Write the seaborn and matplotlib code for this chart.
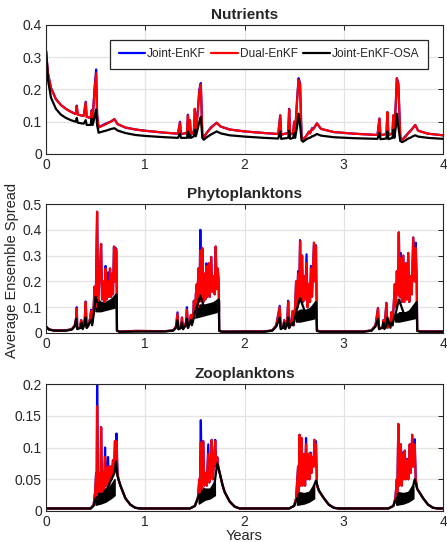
import numpy as np
import pandas as pd
import seaborn as sns
import matplotlib
matplotlib.use("Agg")
import matplotlib.pyplot as plt

# ---------------- Nutrients ----------------
nut_x = [0.00, 0.02, 0.05, 0.10, 0.15, 0.20, 0.25, 0.30, 0.31, 0.32, 0.38, 0.40, 0.41,
         0.45, 0.46, 0.47, 0.49, 0.505, 0.515, 0.53, 0.55, 0.60, 0.65, 0.69, 0.72, 0.80,
         0.90, 1.00, 1.10, 1.20,
         1.33, 1.35, 1.36, 1.42, 1.43, 1.44, 1.45, 1.46, 1.49, 1.50, 1.51, 1.53, 1.545,
         1.56, 1.575, 1.59, 1.62, 1.66, 1.72, 1.76, 1.85, 2.00, 2.20,
         2.34, 2.36, 2.37, 2.44, 2.45, 2.46, 2.49, 2.50, 2.51, 2.53, 2.545, 2.56, 2.575,
         2.59, 2.62, 2.65, 2.66, 2.68, 2.69, 2.73, 2.77, 2.90, 3.10,
         3.34, 3.36, 3.37, 3.43, 3.44, 3.45, 3.49, 3.50, 3.51, 3.525, 3.535, 3.55, 3.57,
         3.59, 3.62, 3.65, 3.67, 3.69, 3.72, 3.75, 3.85, 4.00]
nut_dual = [0.32, 0.25, 0.205, 0.17, 0.152, 0.14, 0.131, 0.124, 0.148, 0.122, 0.118, 0.16, 0.115,
            0.112, 0.133, 0.112, 0.20, 0.25, 0.12, 0.082, 0.085, 0.092, 0.10, 0.108, 0.093, 0.082,
            0.076, 0.072, 0.069, 0.066,
            0.063, 0.098, 0.062, 0.065, 0.12, 0.060, 0.105, 0.060, 0.070, 0.14, 0.070, 0.13, 0.195,
            0.215, 0.060, 0.052, 0.066, 0.080, 0.097, 0.085, 0.076, 0.070, 0.065,
            0.062, 0.12, 0.060, 0.065, 0.138, 0.060, 0.065, 0.10, 0.065, 0.165, 0.23, 0.215, 0.050,
            0.045, 0.055, 0.068, 0.064, 0.078, 0.076, 0.095, 0.078, 0.068, 0.063,
            0.059, 0.11, 0.058, 0.062, 0.13, 0.058, 0.065, 0.12, 0.070, 0.16, 0.235, 0.215, 0.050,
            0.045, 0.052, 0.065, 0.070, 0.078, 0.090, 0.072, 0.063, 0.058]
nut_joint = [0.32, 0.25, 0.205, 0.17, 0.152, 0.14, 0.131, 0.124, 0.150, 0.122, 0.118, 0.162, 0.115,
             0.112, 0.136, 0.112, 0.205, 0.262, 0.12, 0.082, 0.086, 0.094, 0.10, 0.108, 0.093, 0.082,
             0.076, 0.072, 0.069, 0.066,
             0.063, 0.100, 0.062, 0.065, 0.122, 0.060, 0.105, 0.060, 0.070, 0.14, 0.070, 0.135, 0.20,
             0.220, 0.060, 0.052, 0.066, 0.082, 0.097, 0.085, 0.076, 0.070, 0.065,
             0.062, 0.12, 0.060, 0.065, 0.140, 0.060, 0.065, 0.10, 0.065, 0.170, 0.235, 0.220, 0.050,
             0.045, 0.055, 0.070, 0.064, 0.080, 0.076, 0.095, 0.078, 0.068, 0.063,
             0.059, 0.11, 0.058, 0.062, 0.13, 0.058, 0.065, 0.12, 0.070, 0.16, 0.235, 0.220, 0.050,
             0.045, 0.055, 0.065, 0.072, 0.078, 0.090, 0.072, 0.063, 0.058]
nut_osa = [0.32, 0.23, 0.175, 0.14, 0.122, 0.112, 0.105, 0.100, 0.112, 0.097, 0.094, 0.105, 0.090,
           0.090, 0.110, 0.090, 0.115, 0.138, 0.09, 0.066, 0.068, 0.072, 0.077, 0.080, 0.073, 0.065,
           0.059, 0.056, 0.054, 0.052,
           0.050, 0.064, 0.050, 0.050, 0.070, 0.050, 0.060, 0.050, 0.055, 0.075, 0.055, 0.080, 0.100,
           0.115, 0.050, 0.044, 0.052, 0.060, 0.070, 0.064, 0.058, 0.054, 0.050,
           0.048, 0.070, 0.047, 0.050, 0.072, 0.047, 0.050, 0.065, 0.050, 0.085, 0.125, 0.090, 0.042,
           0.038, 0.045, 0.050, 0.050, 0.055, 0.055, 0.062, 0.057, 0.052, 0.049,
           0.047, 0.065, 0.046, 0.048, 0.070, 0.046, 0.050, 0.075, 0.050, 0.085, 0.125, 0.085, 0.040,
           0.037, 0.042, 0.048, 0.050, 0.054, 0.058, 0.054, 0.050, 0.047]

# ---------------- Phytoplanktons ----------------
phy_x = [0.00, 0.03, 0.08, 0.20, 0.26, 0.29, 0.305, 0.31, 0.315, 0.34, 0.355, 0.36, 0.39, 0.40,
         0.41, 0.43, 0.445, 0.455, 0.465, 0.48, 0.49, 0.50, 0.505, 0.515, 0.525, 0.545, 0.555,
         0.565, 0.58, 0.59, 0.60, 0.61, 0.625, 0.635, 0.645, 0.655, 0.665, 0.675, 0.685, 0.695,
         0.70, 0.71, 0.715, 0.74, 0.90, 1.20,
         1.28, 1.31, 1.325, 1.335, 1.36, 1.37, 1.38, 1.41, 1.42, 1.43, 1.45, 1.46, 1.47, 1.485,
         1.49, 1.50, 1.51, 1.52, 1.525, 1.535, 1.545, 1.555, 1.565, 1.575, 1.585, 1.595, 1.605,
         1.615, 1.625, 1.64, 1.65, 1.665, 1.675, 1.69, 1.70, 1.71, 1.72, 1.73, 1.74, 1.745,
         1.77, 2.00, 2.20,
         2.28, 2.32, 2.355, 2.365, 2.39, 2.40, 2.41, 2.43, 2.44, 2.45, 2.47, 2.485, 2.495, 2.51,
         2.52, 2.53, 2.54, 2.55, 2.56, 2.57, 2.58, 2.59, 2.60, 2.61, 2.625, 2.635, 2.65, 2.66,
         2.67, 2.68, 2.70, 2.71, 2.72, 2.73, 2.76, 3.20,
         3.28, 3.32, 3.345, 3.355, 3.39, 3.40, 3.41, 3.43, 3.44, 3.47, 3.48, 3.49, 3.505, 3.515,
         3.525, 3.535, 3.545, 3.555, 3.565, 3.575, 3.585, 3.60, 3.61, 3.625, 3.635, 3.65, 3.66,
         3.675, 3.685, 3.70, 3.715, 3.725, 3.735, 3.74, 3.77, 4.00]
phy_dual = [0.025, 0.014, 0.010, 0.010, 0.015, 0.030, 0.060, 0.095, 0.020, 0.020, 0.050, 0.020, 0.050, 0.120,
            0.020, 0.030, 0.060, 0.085, 0.040, 0.100, 0.180, 0.100, 0.200, 0.470, 0.120, 0.250, 0.345,
            0.130, 0.200, 0.120, 0.250, 0.130, 0.200, 0.140, 0.250, 0.140, 0.230, 0.150, 0.335, 0.200,
            0.325, 0.310, 0.010, 0.005, 0.008, 0.007,
            0.010, 0.025, 0.075, 0.015, 0.020, 0.060, 0.015, 0.040, 0.090, 0.020, 0.040, 0.070, 0.035, 0.080,
            0.125, 0.060, 0.150, 0.190, 0.100, 0.250, 0.120, 0.320, 0.140, 0.330, 0.120, 0.230, 0.130,
            0.260, 0.140, 0.270, 0.140, 0.295, 0.160, 0.220, 0.150, 0.335, 0.170, 0.250, 0.200, 0.010,
            0.005, 0.006, 0.006,
            0.010, 0.030, 0.100, 0.020, 0.020, 0.050, 0.020, 0.040, 0.120, 0.020, 0.040, 0.085, 0.030, 0.100,
            0.200, 0.100, 0.230, 0.130, 0.355, 0.130, 0.300, 0.120, 0.220, 0.130, 0.270, 0.100, 0.190, 0.120,
            0.250, 0.140, 0.350, 0.200, 0.335, 0.010, 0.006, 0.006,
            0.010, 0.030, 0.095, 0.020, 0.020, 0.050, 0.020, 0.115, 0.020, 0.040, 0.080, 0.030, 0.120, 0.190,
            0.100, 0.240, 0.150, 0.390, 0.140, 0.290, 0.120, 0.300, 0.120, 0.270, 0.130, 0.310, 0.120,
            0.220, 0.150, 0.370, 0.200, 0.330, 0.200, 0.010, 0.006, 0.006]
phy_joint = [0.025, 0.014, 0.010, 0.010, 0.015, 0.030, 0.060, 0.100, 0.020, 0.020, 0.050, 0.020, 0.050, 0.122,
             0.020, 0.030, 0.060, 0.090, 0.040, 0.100, 0.180, 0.100, 0.220, 0.470, 0.120, 0.250, 0.345,
             0.130, 0.200, 0.120, 0.260, 0.130, 0.235, 0.140, 0.250, 0.140, 0.230, 0.150, 0.335, 0.200,
             0.330, 0.325, 0.010, 0.005, 0.008, 0.007,
             0.010, 0.025, 0.080, 0.015, 0.020, 0.060, 0.015, 0.040, 0.100, 0.020, 0.040, 0.070, 0.035, 0.085,
             0.125, 0.060, 0.150, 0.190, 0.100, 0.250, 0.120, 0.400, 0.140, 0.325, 0.120, 0.230, 0.130,
             0.270, 0.140, 0.270, 0.140, 0.295, 0.160, 0.220, 0.150, 0.335, 0.170, 0.250, 0.200, 0.010,
             0.005, 0.006, 0.006,
             0.010, 0.030, 0.105, 0.020, 0.020, 0.050, 0.020, 0.040, 0.125, 0.020, 0.040, 0.085, 0.030, 0.100,
             0.200, 0.100, 0.240, 0.130, 0.360, 0.130, 0.300, 0.120, 0.220, 0.130, 0.305, 0.100, 0.190, 0.120,
             0.260, 0.140, 0.350, 0.200, 0.340, 0.010, 0.006, 0.006,
             0.010, 0.030, 0.097, 0.020, 0.020, 0.050, 0.020, 0.117, 0.020, 0.040, 0.080, 0.030, 0.120, 0.190,
             0.100, 0.240, 0.150, 0.390, 0.140, 0.310, 0.120, 0.300, 0.120, 0.270, 0.130, 0.310, 0.120,
             0.220, 0.150, 0.370, 0.200, 0.350, 0.200, 0.010, 0.006, 0.006]
phy_osa_x = [0.00, 0.03, 0.08, 0.20, 0.26, 0.29, 0.305, 0.315, 0.35, 0.36, 0.37, 0.39, 0.40, 0.41,
             0.44, 0.455, 0.465, 0.48, 0.49, 0.50, 0.515, 0.60, 0.712, 0.715, 0.74, 1.20,
             1.28, 1.31, 1.325, 1.335, 1.36, 1.37, 1.38, 1.41, 1.42, 1.43, 1.46, 1.47, 1.49, 1.50,
             1.555, 1.60, 1.742, 1.745, 1.77, 2.20,
             2.28, 2.32, 2.355, 2.365, 2.39, 2.40, 2.41, 2.43, 2.44, 2.45, 2.48, 2.49, 2.51, 2.52,
             2.56, 2.62, 2.72, 2.73, 2.76, 3.20,
             3.28, 3.32, 3.345, 3.355, 3.39, 3.40, 3.41, 3.43, 3.44, 3.47, 3.48, 3.49, 3.51, 3.52,
             3.555, 3.62, 3.735, 3.74, 3.77, 4.00]
phy_osa = [0.025, 0.013, 0.009, 0.009, 0.013, 0.025, 0.055, 0.015, 0.020, 0.040, 0.015, 0.035, 0.060, 0.020,
           0.040, 0.050, 0.030, 0.070, 0.100, 0.140, 0.120, 0.100, 0.150, 0.009, 0.005, 0.006,
           0.009, 0.020, 0.050, 0.015, 0.020, 0.040, 0.015, 0.030, 0.055, 0.020, 0.050, 0.030, 0.060, 0.080,
           0.145, 0.090, 0.130, 0.008, 0.005, 0.005,
           0.009, 0.025, 0.060, 0.015, 0.020, 0.040, 0.015, 0.030, 0.060, 0.020, 0.040, 0.030, 0.060, 0.080,
           0.135, 0.070, 0.120, 0.008, 0.005, 0.005,
           0.009, 0.025, 0.055, 0.015, 0.020, 0.040, 0.015, 0.030, 0.060, 0.020, 0.040, 0.030, 0.060, 0.070,
           0.130, 0.060, 0.120, 0.008, 0.005, 0.005]
# envelope of the fast black oscillations during blooms
phy_band_x = [[0.50, 0.55, 0.60, 0.65, 0.70, 0.712],
              [1.50, 1.55, 1.60, 1.65, 1.70, 1.742],
              [2.52, 2.56, 2.62, 2.68, 2.725],
              [3.52, 3.56, 3.62, 3.68, 3.735]]
phy_band_lo = [[0.085, 0.085, 0.090, 0.095, 0.100, 0.105],
               [0.060, 0.065, 0.070, 0.075, 0.080, 0.085],
               [0.045, 0.045, 0.050, 0.055, 0.060],
               [0.045, 0.045, 0.050, 0.055, 0.060]]
phy_band_hi = [[0.140, 0.120, 0.120, 0.130, 0.140, 0.150],
               [0.100, 0.110, 0.110, 0.115, 0.120, 0.130],
               [0.080, 0.090, 0.090, 0.100, 0.120],
               [0.070, 0.080, 0.080, 0.090, 0.120]]

# ---------------- Zooplanktons ----------------
zoo_x = [0.00, 0.45, 0.48, 0.495, 0.505, 0.51, 0.515, 0.525, 0.54, 0.55, 0.555, 0.565, 0.58,
         0.585, 0.595, 0.605, 0.615, 0.625, 0.635, 0.65, 0.66, 0.675, 0.685, 0.695, 0.705, 0.71,
         0.72, 0.73, 0.75, 0.78, 0.80, 0.85, 0.90, 0.95,
         1.45, 1.50, 1.53, 1.545, 1.55, 1.56, 1.57, 1.585, 1.595, 1.61, 1.62, 1.635, 1.645,
         1.66, 1.67, 1.68, 1.695, 1.705, 1.715, 1.725, 1.735, 1.75, 1.78, 1.80, 1.85, 1.90, 1.95,
         2.45, 2.50, 2.52, 2.54, 2.545, 2.555, 2.565, 2.575, 2.585, 2.60, 2.61, 2.62, 2.63,
         2.645, 2.655, 2.665, 2.675, 2.685, 2.695, 2.705, 2.715, 2.72, 2.73, 2.75, 2.80, 2.85,
         2.90, 2.95,
         3.45, 3.50, 3.52, 3.535, 3.54, 3.55, 3.56, 3.575, 3.585, 3.595, 3.605, 3.615, 3.625,
         3.64, 3.65, 3.665, 3.675, 3.69, 3.70, 3.715, 3.725, 3.74, 3.80, 3.85, 3.90, 3.95, 4.00]
zoo_dual = [0.004, 0.004, 0.010, 0.030, 0.060, 0.020, 0.165, 0.030, 0.060, 0.030, 0.132, 0.030, 0.060,
            0.035, 0.085, 0.040, 0.060, 0.070, 0.040, 0.070, 0.050, 0.080, 0.060, 0.110, 0.080, 0.110,
            0.060, 0.050, 0.040, 0.028, 0.020, 0.010, 0.005, 0.004,
            0.004, 0.008, 0.020, 0.050, 0.030, 0.108, 0.035, 0.110, 0.040, 0.060, 0.040, 0.090, 0.045,
            0.070, 0.112, 0.050, 0.080, 0.110, 0.070, 0.085, 0.070, 0.060, 0.040, 0.030, 0.015, 0.007, 0.004,
            0.004, 0.008, 0.020, 0.070, 0.030, 0.120, 0.040, 0.115, 0.040, 0.090, 0.040, 0.105, 0.050,
            0.090, 0.050, 0.090, 0.060, 0.085, 0.070, 0.112, 0.070, 0.105, 0.040, 0.032, 0.020, 0.010,
            0.005, 0.004,
            0.004, 0.008, 0.020, 0.050, 0.030, 0.137, 0.040, 0.105, 0.040, 0.090, 0.050, 0.095, 0.050,
            0.080, 0.050, 0.105, 0.060, 0.120, 0.070, 0.105, 0.050, 0.035, 0.020, 0.010, 0.005, 0.004, 0.004]
zoo_joint = [0.004, 0.004, 0.010, 0.030, 0.060, 0.020, 0.200, 0.030, 0.060, 0.030, 0.132, 0.030, 0.060,
             0.035, 0.100, 0.040, 0.060, 0.085, 0.040, 0.070, 0.050, 0.080, 0.060, 0.110, 0.080, 0.122,
             0.060, 0.050, 0.040, 0.028, 0.020, 0.010, 0.005, 0.004,
             0.004, 0.008, 0.020, 0.050, 0.030, 0.143, 0.035, 0.110, 0.040, 0.060, 0.040, 0.105, 0.045,
             0.070, 0.112, 0.050, 0.080, 0.112, 0.070, 0.085, 0.070, 0.060, 0.040, 0.030, 0.015, 0.007, 0.004,
             0.004, 0.008, 0.020, 0.070, 0.030, 0.120, 0.040, 0.115, 0.040, 0.090, 0.040, 0.115, 0.050,
             0.090, 0.050, 0.092, 0.060, 0.085, 0.070, 0.112, 0.070, 0.110, 0.040, 0.032, 0.020, 0.010,
             0.005, 0.004,
             0.004, 0.008, 0.020, 0.050, 0.030, 0.137, 0.040, 0.105, 0.040, 0.092, 0.050, 0.095, 0.050,
             0.082, 0.050, 0.105, 0.060, 0.120, 0.070, 0.113, 0.050, 0.035, 0.020, 0.010, 0.005, 0.004, 0.004]
zoo_osa_x = [0.00, 0.45, 0.48, 0.50, 0.60, 0.69, 0.705, 0.72, 0.75, 0.78, 0.80, 0.85, 0.90, 0.95,
             1.45, 1.50, 1.54, 1.65, 1.70, 1.725, 1.75, 1.78, 1.80, 1.85, 1.90, 1.95,
             2.45, 2.50, 2.53, 2.65, 2.70, 2.72, 2.75, 2.80, 2.85, 2.90, 2.95,
             3.45, 3.50, 3.53, 3.65, 3.70, 3.715, 3.74, 3.80, 3.85, 3.90, 3.95, 4.00]
zoo_osa = [0.004, 0.004, 0.008, 0.020, 0.030, 0.060, 0.078, 0.055, 0.040, 0.028, 0.020, 0.010, 0.005, 0.004,
           0.004, 0.008, 0.025, 0.030, 0.045, 0.075, 0.060, 0.040, 0.030, 0.015, 0.007, 0.004,
           0.004, 0.008, 0.020, 0.025, 0.040, 0.048, 0.032, 0.020, 0.010, 0.005, 0.004,
           0.004, 0.008, 0.020, 0.025, 0.040, 0.050, 0.035, 0.020, 0.010, 0.005, 0.004, 0.004]
zoo_band_x = [[0.50, 0.55, 0.60, 0.65, 0.69],
              [1.54, 1.60, 1.65, 1.70],
              [2.53, 2.60, 2.65, 2.70],
              [3.53, 3.60, 3.65, 3.70]]
zoo_band_lo = [[0.010, 0.012, 0.015, 0.020, 0.025],
               [0.012, 0.018, 0.020, 0.025],
               [0.010, 0.012, 0.015, 0.020],
               [0.010, 0.012, 0.015, 0.020]]
zoo_band_hi = [[0.035, 0.035, 0.035, 0.040, 0.050],
               [0.040, 0.035, 0.035, 0.045],
               [0.030, 0.028, 0.030, 0.040],
               [0.030, 0.028, 0.030, 0.040]]

series_names = ["Joint-EnKF", "Dual-EnKF", "Joint-EnKF-OSA"]
series_colors = ["#0000ff", "#ff0000", "#000000"]

sns.set_theme(style="white")
plt.rcParams["font.family"] = ["Liberation Sans", "DejaVu Sans"]
plt.rcParams.update({
    "axes.edgecolor": "#262626", "axes.linewidth": 0.8,
    "xtick.direction": "in", "ytick.direction": "in",
    "xtick.top": True, "ytick.right": True,
    "xtick.major.size": 3.5, "ytick.major.size": 3.5,
    "xtick.major.width": 0.7, "ytick.major.width": 0.7,
    "xtick.color": "#262626", "ytick.color": "#262626",
    "xtick.labelsize": 10, "ytick.labelsize": 10,
    "xtick.labelcolor": "#262626", "ytick.labelcolor": "#262626",
})

fig = plt.figure(figsize=(4.47, 5.42), dpi=100)
W, H = 447, 542
def box(l, t, r, b):
    return [l / W, 1 - b / H, (r - l) / W, (b - t) / H]

ax1 = fig.add_axes(box(46, 25, 443, 154))
ax2 = fig.add_axes(box(46, 204, 443, 333))
ax3 = fig.add_axes(box(46, 384, 443, 511))

for n, a in zip([nut_x, nut_x, phy_x, phy_x, zoo_x, zoo_x],
                [nut_joint, nut_dual, phy_joint, phy_dual, zoo_joint, zoo_dual]):
    assert len(n) == len(a), (len(n), len(a))
assert len(nut_x) == len(nut_osa)
assert len(phy_osa_x) == len(phy_osa)
assert len(zoo_osa_x) == len(zoo_osa)

lw = 1.6
panels = [
    (ax1, nut_x, nut_joint, nut_dual, nut_x, nut_osa, None, "Nutrients", 0.4, 0.1),
    (ax2, phy_x, phy_joint, phy_dual, phy_osa_x, phy_osa,
     (phy_band_x, phy_band_lo, phy_band_hi), "Phytoplanktons", 0.5, 0.1),
    (ax3, zoo_x, zoo_joint, zoo_dual, zoo_osa_x, zoo_osa,
     (zoo_band_x, zoo_band_lo, zoo_band_hi), "Zooplanktons", 0.2, 0.05),
]

for ax, x, yj, yd, xo, yo, band, title, ymax, step in panels:
    sns.lineplot(x=x, y=yj, ax=ax, color=series_colors[0], lw=lw, sort=False,
                 estimator=None, label=series_names[0])
    sns.lineplot(x=x, y=yd, ax=ax, color=series_colors[1], lw=lw, sort=False,
                 estimator=None, label=series_names[1])
    sns.lineplot(x=xo, y=yo, ax=ax, color=series_colors[2], lw=lw, sort=False,
                 estimator=None, label=series_names[2])
    if band is not None:
        for bx, lo, hi in zip(*band):
            ax.fill_between(bx, lo, hi, color="black", lw=1.2)
    ax.set_xlim(0, 4)
    ax.set_ylim(0, ymax)
    ax.set_xticks([0, 1, 2, 3, 4])
    ticks = np.round(np.arange(0, ymax + 1e-9, step), 2)
    ax.set_yticks(ticks)
    ax.set_yticklabels([f"{v:g}" for v in ticks])
    ax.grid(True, color="#e3e3e3", lw=0.9)
    ax.set_axisbelow(True)
    ax.set_title(title, fontsize=11, fontweight="bold", pad=4)
    ax.set_xlabel("")
    ax.set_ylabel("")
    ax.tick_params(pad=3)
    if ax is not ax1:
        ax.get_legend().remove()

leg = ax1.legend(loc="upper right", bbox_to_anchor=(0.977, 0.93), ncol=3, fontsize=8.6,
                 frameon=True, fancybox=False, framealpha=1, edgecolor="#262626",
                 handlelength=2.25, handletextpad=0.15, columnspacing=0.45, borderpad=0.7)
leg.get_frame().set_linewidth(0.9)

ax3.set_xlabel("Years", fontsize=10.5, color="#262626", labelpad=0)
fig.text(12 / W, 1 - 270 / H, "Average Ensemble Spread", rotation=90,
         ha="center", va="center", fontsize=10.5, color="#262626")

fig.savefig("out.png", dpi=100)
